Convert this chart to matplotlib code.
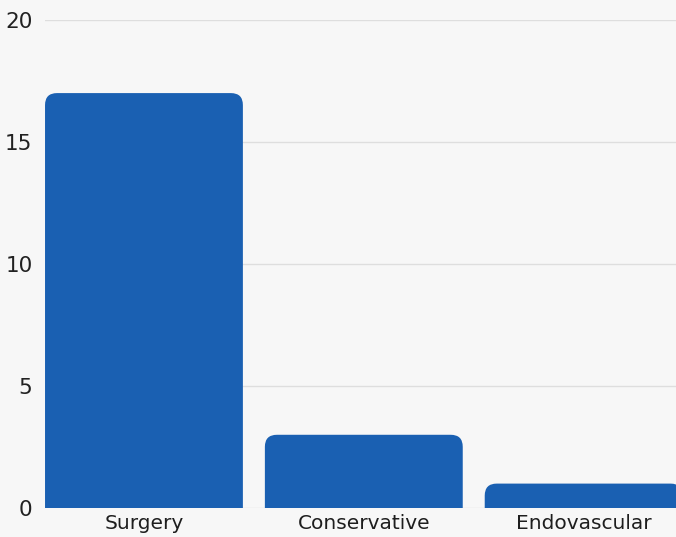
import matplotlib
matplotlib.use("Agg")
import matplotlib.pyplot as plt
from matplotlib.patches import FancyBboxPatch

# Data
categories = ["Surgery", "Conservative", "Endovascular"]
counts = [17, 3, 1]
y_ticks = [0, 5, 10, 15, 20]

bar_color = "#1a60b2"
bg_color = "#f7f7f7"

plt.rcParams["font.family"] = ["DejaVu Sans"]

fig = plt.figure(figsize=(6.76, 5.37), dpi=100, facecolor=bg_color)
ax = fig.add_axes([0.0666, 0.054, 0.9334, 0.909])
ax.set_facecolor(bg_color)

x = list(range(len(categories)))
bars = ax.bar(x, counts, width=0.9, color=bar_color)

ax.set_xlim(-0.45, 2.42)
ax.set_ylim(0, 20)

# Swap plain bars for rounded-top ones (bottom corners fall below y=0 and get clipped)
fig.canvas.draw()
px_x = ax.transData.transform((1, 0))[0] - ax.transData.transform((0, 0))[0]
px_y = ax.transData.transform((0, 1))[1] - ax.transData.transform((0, 0))[1]
aspect = px_x / px_y
radius_px = 12
for b in bars:
    b.set_visible(False)
    bx, bw, bh = b.get_x(), b.get_width(), b.get_height()
    patch = FancyBboxPatch((bx, -1), bw, bh + 1,
                           boxstyle=f"round,pad=0,rounding_size={radius_px / px_x}",
                           mutation_aspect=aspect,
                           facecolor=bar_color, edgecolor="none", zorder=3)
    ax.add_patch(patch)

ax.set_yticks(y_ticks)
ax.set_yticklabels([str(t) for t in y_ticks], fontsize=15.5, color="#222222")
ax.set_xticks(x)
ax.set_xticklabels(categories, fontsize=14.5, color="#1e1e1e")
ax.tick_params(axis="y", length=0, pad=9)
ax.tick_params(axis="x", length=0, pad=4)

ax.yaxis.grid(True, color="#dedede", linewidth=1)
ax.set_axisbelow(True)
for s in ax.spines.values():
    s.set_visible(False)

fig.savefig("out.png", dpi=100, facecolor=bg_color)
